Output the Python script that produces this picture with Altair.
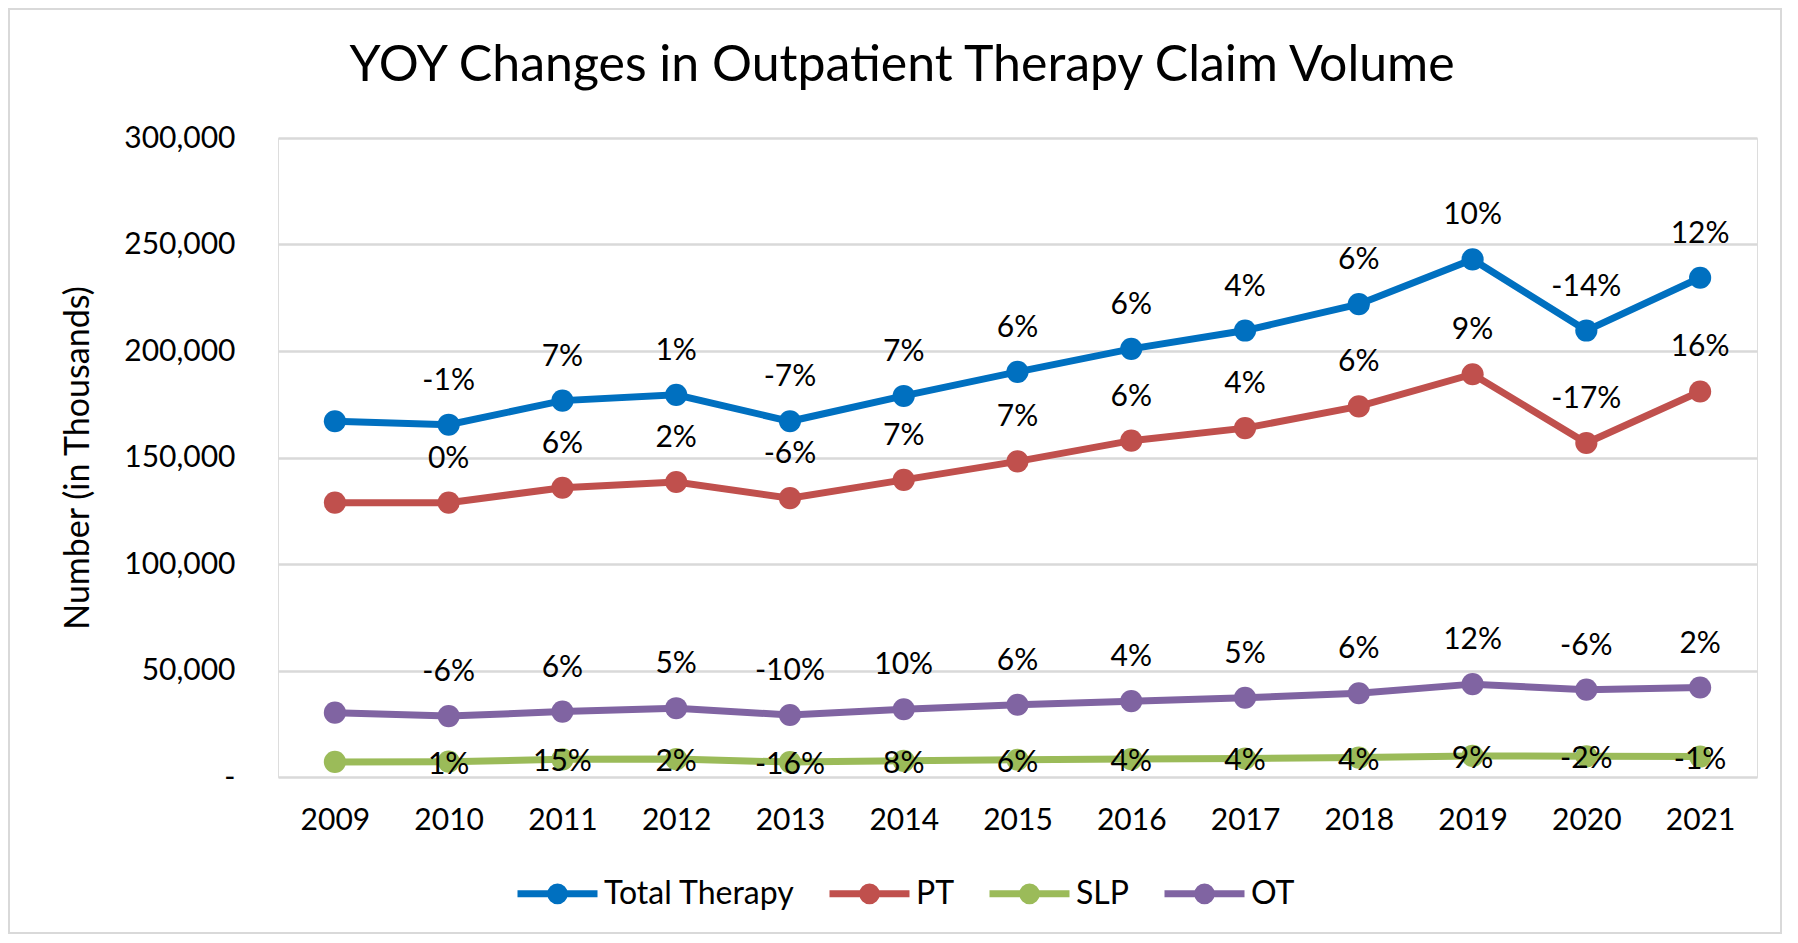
import altair as alt
import pandas as pd

years = ["2009", "2010", "2011", "2012", "2013", "2014", "2015", "2016", "2017", "2018", "2019", "2020", "2021"]
series_names = ["Total Therapy", "PT", "SLP", "OT"]
series_colors = ["#0070C0", "#C0504D", "#9BBB59", "#8064A2"]

total_vals = [167000, 165400, 176700, 179400, 167000, 178900, 190200, 201000, 209600, 222000, 243000, 209600, 234400]
pt_vals = [128800, 128800, 135800, 138500, 130900, 139500, 148200, 157900, 163800, 174000, 189100, 156800, 181000]
slp_vals = [7100, 7200, 8300, 8400, 7000, 7600, 8100, 8400, 8700, 9100, 9900, 9700, 9600]
ot_vals = [30200, 28600, 30700, 32300, 29100, 31800, 33900, 35600, 37200, 39300, 43600, 41000, 42000]

total_lbl = ["", "-1%", "7%", "1%", "-7%", "7%", "6%", "6%", "4%", "6%", "10%", "-14%", "12%"]
pt_lbl = ["", "0%", "6%", "2%", "-6%", "7%", "7%", "6%", "4%", "6%", "9%", "-17%", "16%"]
slp_lbl = ["", "1%", "15%", "2%", "-16%", "8%", "6%", "4%", "4%", "4%", "9%", "-2%", "-1%"]
ot_lbl = ["", "-6%", "6%", "5%", "-10%", "10%", "6%", "4%", "5%", "6%", "12%", "-6%", "2%"]

y_ticks = [0, 50000, 100000, 150000, 200000, 250000, 300000]
chart_title = "YOY Changes in Outpatient Therapy Claim Volume"

rows = []
for name, vals, lbls in [("Total Therapy", total_vals, total_lbl), ("PT", pt_vals, pt_lbl),
                         ("SLP", slp_vals, slp_lbl), ("OT", ot_vals, ot_lbl)]:
    for yr, v, l in zip(years, vals, lbls):
        rows.append({"year": yr, "series": name, "value": v, "label": l})
df = pd.DataFrame(rows)

FONT = "Lato"
W, H = 1479, 639

x_enc = alt.X("year:N", sort=years, scale=alt.Scale(type="point", padding=0.5),
              axis=alt.Axis(title=None, labelFont=FONT, labelFontSize=30, labelColor="#000000",
                            labelAngle=0, ticks=False, tickSize=0, domain=False, grid=False,
                            labelPadding=28))
y_enc = alt.Y("value:Q", scale=alt.Scale(domain=[0, 300000], nice=False),
              axis=alt.Axis(title="Number (in Thousands)", values=y_ticks,
                            labelExpr="datum.value == 0 ? '-' : format(datum.value, ',')",
                            labelFont=FONT, labelFontSize=30, labelColor="#000000",
                            ticks=False, tickSize=0, domain=False, labelPadding=43,
                            gridColor="#D9D9D9", gridWidth=2.5,
                            titleFont=FONT, titleFontSize=34, titleFontWeight="normal",
                            titleColor="#000000", titleAngle=270, titleX=-200, titleY=H / 2,
                            titleAlign="center", titleBaseline="middle"))

sym_path = "M-1,0H1M0.17,0A0.17,0.17,0,1,1,-0.17,0A0.17,0.17,0,1,1,0.17,0Z"
legend_common = dict(title=None, orient="none", direction="horizontal",
                     legendX=236, legendY=712, symbolSize=6400, symbolType=sym_path,
                     symbolStrokeWidth=7,
                     labelFont=FONT, labelFontSize=32, labelColor="#000000", labelLimit=500,
                     labelOffset=3, columnPadding=20)

stroke_enc = alt.Stroke("series:N", sort=series_names,
                        scale=alt.Scale(domain=series_names, range=series_colors),
                        legend=alt.Legend(**legend_common))
fill_enc = alt.Fill("series:N", sort=series_names,
                    scale=alt.Scale(domain=series_names, range=series_colors),
                    legend=alt.Legend(**legend_common))

base = alt.Chart(df)

lines = base.mark_line(strokeWidth=7).encode(x=x_enc, y=y_enc, stroke=stroke_enc,
                                             order=alt.Order("year:N"))
points = base.mark_point(filled=True, size=490, opacity=1).encode(x=x_enc, y=y_enc, fill=fill_enc)

text_top = base.transform_filter(alt.datum.series != "SLP").mark_text(
    font=FONT, fontSize=30, color="#000000", align="center", baseline="middle", dy=-44
).encode(x=x_enc, y=y_enc, text="label:N")

text_slp = base.transform_filter(alt.datum.series == "SLP").mark_text(
    font=FONT, fontSize=30, color="#000000", align="center", baseline="middle", dy=3
).encode(x=x_enc, y=y_enc, text="label:N")

one = pd.DataFrame({"t": [chart_title]})
border = alt.Chart(one).mark_rect(
    fill=None, stroke="#D9D9D9", strokeWidth=2
).encode(x=alt.value(-269), x2=alt.value(W + 24), y=alt.value(-129), y2=alt.value(H + 156))

title_mark = alt.Chart(one).mark_text(
    font=FONT, fontSize=50, color="#000000", align="center", baseline="middle"
).encode(x=alt.value(624), y=alt.value(-72), text="t:N")

chart = alt.layer(border, lines, points, text_top, text_slp, title_mark).properties(
    width=W, height=H,
    autosize=alt.AutoSizeParams(type="none"),
    padding={"left": 270, "top": 130, "right": 25, "bottom": 157},
).configure_view(stroke=None).configure(background="#FFFFFF")

chart.save("out.html", embed_options={"renderer": "svg", "actions": False})
